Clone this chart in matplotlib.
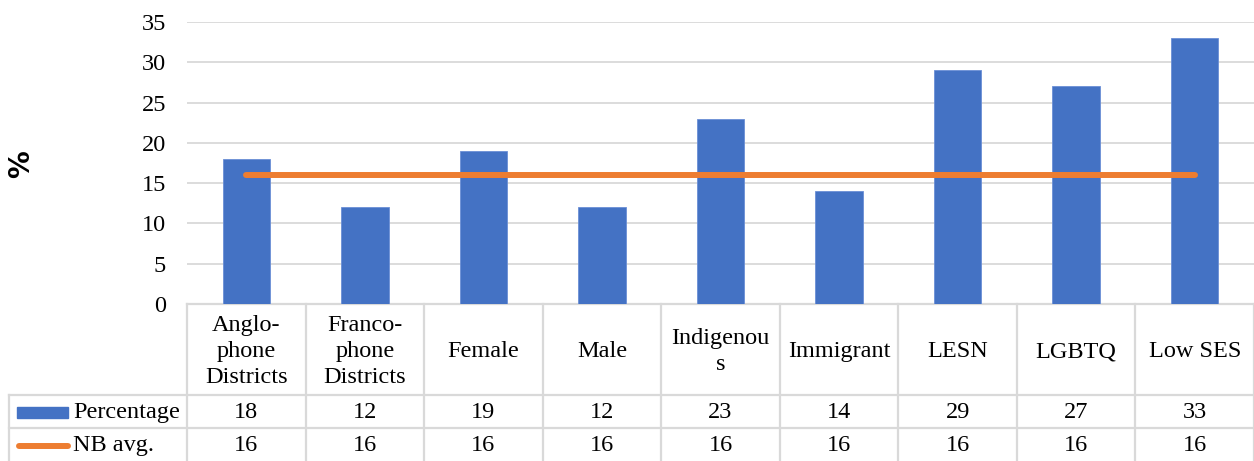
import matplotlib
matplotlib.use("Agg")
import matplotlib.pyplot as plt
import matplotlib.transforms as mtransforms

categories = ["Anglo-\nphone\nDistricts", "Franco-\nphone\nDistricts", "Female", "Male",
              "Indigenou\ns", "Immigrant", "LESN", "LGBTQ", "Low SES"]
percentage = [18, 12, 19, 12, 23, 14, 29, 27, 33]
nb_avg = [16, 16, 16, 16, 16, 16, 16, 16, 16]
series_names = ["Percentage", "NB avg."]

blue = "#4472C4"
orange = "#ED7D31"
grid = "#D9D9D9"
fs = 17.5

plt.rcParams["font.family"] = ["Liberation Serif", "DejaVu Serif"]

W, H = 1254, 461
fig = plt.figure(figsize=(W / 100, H / 100), dpi=100)

# plot area in pixels
x0, x1 = 187, 1254
y_top, y_bot = 22, 304
ax = fig.add_axes([x0 / W, (H - y_bot) / H, (x1 - x0) / W, (y_bot - y_top) / H])

n = len(categories)
xs = list(range(n))
ax.bar(xs, percentage, width=0.4, color=blue, edgecolor="#6B8FD6", linewidth=0.6, zorder=3)
ax.plot(xs, nb_avg, color=orange, linewidth=4.3, solid_capstyle="round", zorder=4)

ax.set_xlim(-0.5, n - 0.5)
ax.set_ylim(0, 35)
ax.set_yticks(range(0, 36, 5))
ax.set_xticks([])
ax.grid(axis="y", color=grid, linewidth=1.3, zorder=0)
for s in ax.spines.values():
    s.set_visible(False)
ax.tick_params(axis="y", length=0, pad=15, labelsize=fs)

fig.text(21 / W, 1 - 164 / H, "%", rotation=90, ha="center", va="center",
         fontsize=20, fontweight="bold", family="DejaVu Sans")

# data table below the plot: x follows data, y in figure pixels from the top
def py(y):
    return 1 - y / H

tr = mtransforms.blended_transform_factory(ax.transData, fig.transFigure)
row_cat = (304, 395)
row_pct = (395, 428)
row_avg = (428, 461)
lw = 1.6

for i in range(n + 1):
    ax.plot([i - 0.5, i - 0.5], [py(row_cat[0]), py(row_avg[1])], transform=tr,
            color=grid, linewidth=lw, clip_on=False)
ax.plot([-0.5, n - 0.5], [py(row_cat[0])] * 2, transform=tr, color=grid, linewidth=lw, clip_on=False)
for yy in (row_pct[0], row_avg[0]):
    fig.add_artist(plt.Line2D([9 / W, 1], [py(yy)] * 2, color=grid, linewidth=lw))
fig.add_artist(plt.Line2D([9 / W, 9 / W], [py(row_pct[0]), py(row_avg[1])], color=grid, linewidth=lw))

for i, lab in enumerate(categories):
    ax.text(i, py(sum(row_cat) / 2 + 2), lab, transform=tr, ha="center", va="center",
            fontsize=fs, linespacing=1.3)
    ax.text(i, py(sum(row_pct) / 2 + 1), str(percentage[i]), transform=tr, ha="center",
            va="center", fontsize=fs)
    ax.text(i, py(sum(row_avg) / 2 + 1), str(nb_avg[i]), transform=tr, ha="center",
            va="center", fontsize=fs)

# legend keys in the row headers
fig.add_artist(plt.Rectangle((17 / W, py(418)), 51 / W, 11 / H, color=blue))
fig.add_artist(plt.Line2D([19 / W, 68 / W], [py(446)] * 2, color=orange, linewidth=4.3,
                          solid_capstyle="round"))
fig.text(73 / W, py(sum(row_pct) / 2 + 1), series_names[0], ha="left", va="center", fontsize=fs)
fig.text(73 / W, py(sum(row_avg) / 2 + 1), series_names[1], ha="left", va="center", fontsize=fs)

fig.savefig("out.png", dpi=100)
